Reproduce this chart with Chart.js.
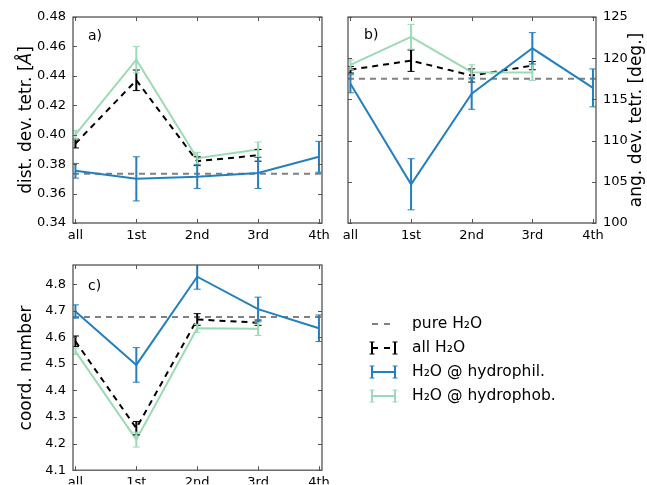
<!DOCTYPE html>
<html lang="en">
<head>
<meta charset="UTF-8">
<title>Tetrahedral order and coordination by hydration shell</title>
<script src="https://cdn.jsdelivr.net/npm/chart.js@4.4.1/dist/chart.umd.min.js"></script>
<style>
  body { margin: 0; background: #fff; }
  #wrap { position: relative; width: 647px; height: 485px; overflow: hidden; }
  #wrap canvas { position: absolute; }
</style>
</head>
<body>
<div id="wrap">
  <canvas id="dist-chart" width="345" height="250" style="left:0;top:0"></canvas>
  <canvas id="ang-chart" width="317" height="250" style="left:330px;top:0"></canvas>
  <canvas id="coord-chart" width="647" height="235" style="left:0;top:250px"></canvas>
</div>
<script>
const shells = ['all', '1st', '2nd', '3rd', '4th'];
const xMin = -0.04;
const xMax = 4.05;
const seriesLabels = ['pure H₂O', 'all H₂O', 'H₂O @ hydrophil.', 'H₂O @ hydrophob.'];

// a) distance deviation from tetrahedral order
const distPure = 0.3735;
const distAll = [0.394, 0.437, 0.382, 0.386];
const distAllErr = [0.003, 0.007, 0.003, 0.004];
const distPhil = [0.3755, 0.370, 0.3715, 0.374, 0.385];
const distPhilErr = [0.005, 0.015, 0.008, 0.0105, 0.0105];
const distPhob = [0.400, 0.451, 0.384, 0.390];
const distPhobErr = [0.003, 0.009, 0.004, 0.005];

// b) angular deviation
const angPure = 117.5;
const angAll = [118.6, 119.7, 117.9, 119.1];
const angAllErr = [0.4, 1.3, 0.8, 0.5];
const angPhil = [116.9, 104.7, 115.7, 121.2, 116.4];
const angPhilErr = [1.1, 3.1, 1.9, 1.9, 2.3];
const angPhob = [119.2, 122.6, 118.3, 118.25];
const angPhobErr = [0.6, 1.5, 0.9, 0.95];

// c) coordination number
const coordPure = 4.676;
const coordAll = [4.585, 4.258, 4.667, 4.655];
const coordAllErr = [0.02, 0.025, 0.022, 0.01];
const coordPhil = [4.697, 4.496, 4.828, 4.706, 4.634];
const coordPhilErr = [0.025, 0.065, 0.047, 0.045, 0.05];
const coordPhob = [4.547, 4.215, 4.634, 4.632];
const coordPhobErr = [0.012, 0.028, 0.015, 0.025];

const FONT = '"DejaVu Sans", sans-serif';
const GRAY = '#808080';
const BLUE = '#2380bd';
const GREEN = '#9cdab6';

Chart.defaults.font.family = FONT;
Chart.defaults.color = '#000';

function points(values) {
  return values.map((v, i) => ({ x: i, y: v }));
}

function buildDatasets(pure, all, allErr, phil, philErr, phob, phobErr) {
  return [
    { label: seriesLabels[0], data: [{ x: xMin, y: pure }, { x: xMax, y: pure }],
      borderColor: GRAY, borderWidth: 2, borderDash: [6, 5], order: 4 },
    { label: seriesLabels[1], data: points(all), errors: allErr,
      borderColor: '#000', borderWidth: 2, borderDash: [6, 5], order: 3 },
    { label: seriesLabels[2], data: points(phil), errors: philErr,
      borderColor: BLUE, borderWidth: 2, order: 1 },
    { label: seriesLabels[3], data: points(phob), errors: phobErr,
      borderColor: GREEN, borderWidth: 2, order: 2 }
  ];
}

function strokeLine(ctx, x1, y1, x2, y2) {
  ctx.beginPath();
  ctx.moveTo(x1, y1);
  ctx.lineTo(x2, y2);
  ctx.stroke();
}

// vertical error bars with caps, from each dataset's errors array
const errorBars = {
  id: 'errorBars',
  afterDatasetsDraw(chart) {
    const { ctx, chartArea: a, scales: { x, y } } = chart;
    ctx.save();
    ctx.beginPath();
    ctx.rect(a.left, a.top, a.right - a.left, a.bottom - a.top);
    ctx.clip();
    const sets = chart.data.datasets.slice().sort((p, q) => q.order - p.order);
    sets.forEach(ds => {
      if (!ds.errors) return;
      ctx.strokeStyle = ds.borderColor;
      ctx.setLineDash([]);
      ds.data.forEach((pt, i) => {
        const px = x.getPixelForValue(pt.x);
        const hi = y.getPixelForValue(pt.y + ds.errors[i]);
        const lo = y.getPixelForValue(pt.y - ds.errors[i]);
        ctx.lineWidth = 2;
        strokeLine(ctx, px, hi, px, lo);
        ctx.lineWidth = 1;
        strokeLine(ctx, px - 3.5, hi, px + 3.5, hi);
        strokeLine(ctx, px - 3.5, lo, px + 3.5, lo);
      });
    });
    ctx.restore();
  }
};

// box around the plot area with inward ticks on all four sides
const axesFrame = {
  id: 'axesFrame',
  afterDraw(chart) {
    const { ctx, chartArea: a, scales: { x, y } } = chart;
    ctx.save();
    ctx.strokeStyle = '#555';
    ctx.lineWidth = 1;
    ctx.beginPath();
    x.ticks.forEach(t => {
      const px = Math.round(x.getPixelForValue(t.value)) + 0.5;
      ctx.moveTo(px, a.top); ctx.lineTo(px, a.top + 4);
      ctx.moveTo(px, a.bottom); ctx.lineTo(px, a.bottom - 4);
    });
    y.ticks.forEach(t => {
      const py = Math.round(y.getPixelForValue(t.value)) + 0.5;
      ctx.moveTo(a.left, py); ctx.lineTo(a.left + 4, py);
      ctx.moveTo(a.right, py); ctx.lineTo(a.right - 4, py);
    });
    ctx.stroke();
    ctx.lineWidth = 1.3;
    ctx.strokeRect(a.left, a.top, a.right - a.left, a.bottom - a.top);
    ctx.restore();
  }
};

// panel letter and rotated axis label (label can mix upright and italic pieces)
const panelText = {
  id: 'panelText',
  afterDraw(chart, args, opts) {
    const ctx = chart.ctx;
    ctx.save();
    ctx.fillStyle = '#000';
    ctx.textBaseline = 'middle';
    ctx.font = `14px ${FONT}`;
    ctx.textAlign = 'left';
    ctx.fillText(opts.letter, opts.letterX, opts.letterY);

    const fonts = opts.title.map(p => `${p.italic ? 'italic ' : ''}17px ${FONT}`);
    const widths = opts.title.map((p, i) => { ctx.font = fonts[i]; return ctx.measureText(p.text).width; });
    const total = widths.reduce((s, w) => s + w, 0);
    ctx.translate(opts.titleX, opts.titleY);
    ctx.rotate(-Math.PI / 2);
    let cx = -total / 2;
    opts.title.forEach((p, i) => {
      ctx.font = fonts[i];
      ctx.fillText(p.text, cx, 0);
      cx += widths[i];
    });
    ctx.restore();
  }
};

// legend placed beside the lower panel
const legendBox = {
  id: 'legendBox',
  afterDraw(chart, args, opts) {
    const ctx = chart.ctx;
    ctx.save();
    chart.data.datasets.forEach((ds, i) => {
      const y = opts.top + i * opts.rowGap;
      ctx.strokeStyle = ds.borderColor;
      ctx.lineWidth = 2;
      ctx.setLineDash(ds.borderDash ? [6, 6] : []);
      strokeLine(ctx, opts.x0, y, opts.x1, y);
      ctx.setLineDash([]);
      if (ds.errors) {
        [opts.x0, opts.x1].forEach(px => {
          ctx.lineWidth = 2;
          strokeLine(ctx, px, y - 6, px, y + 6);
          ctx.lineWidth = 1;
          strokeLine(ctx, px - 2.5, y - 6, px + 2.5, y - 6);
          strokeLine(ctx, px - 2.5, y + 6, px + 2.5, y + 6);
        });
      }
      ctx.fillStyle = '#000';
      ctx.font = `15.5px ${FONT}`;
      ctx.textAlign = 'left';
      ctx.textBaseline = 'middle';
      ctx.fillText(ds.label, opts.textX, y);
    });
    ctx.restore();
  }
};

function panel(id, cfg) {
  return new Chart(document.getElementById(id), {
    type: 'line',
    data: { datasets: cfg.datasets },
    options: {
      responsive: false,
      animation: false,
      events: [],
      layout: { padding: cfg.padding },
      elements: { point: { radius: 0, hoverRadius: 0 }, line: { tension: 0, fill: false } },
      plugins: {
        legend: { display: false },
        tooltip: { enabled: false },
        panelText: cfg.text,
        legendBox: cfg.legend || false
      },
      scales: {
        x: {
          type: 'linear', min: xMin, max: xMax,
          grid: { display: false, drawTicks: false },
          border: { display: false },
          ticks: {
            stepSize: 1, includeBounds: false, autoSkip: false, maxRotation: 0,
            padding: 5, font: { size: 13 },
            callback: v => shells[v] ?? ''
          },
          afterFit: s => { s.height = cfg.xHeight; }
        },
        y: {
          position: cfg.yPosition,
          min: cfg.yMin, max: cfg.yMax,
          grid: { display: false, drawTicks: false },
          border: { display: false },
          ticks: {
            stepSize: cfg.yStep, includeBounds: false, autoSkip: false,
            padding: 7, font: { size: 13 },
            callback: v => v.toFixed(cfg.yDecimals)
          },
          afterFit: s => { s.width = cfg.yWidth; }
        }
      }
    },
    plugins: [errorBars, axesFrame, panelText, legendBox]
  });
}

panel('dist-chart', {
  datasets: buildDatasets(distPure, distAll, distAllErr, distPhil, distPhilErr, distPhob, distPhobErr),
  padding: { top: 17, right: 23, bottom: 0, left: 0 },
  xHeight: 27, yWidth: 73, yPosition: 'left',
  yMin: 0.34, yMax: 0.48, yStep: 0.02, yDecimals: 2,
  text: {
    letter: 'a)', letterX: 88, letterY: 36,
    title: [{ text: 'dist. dev. tetr. [' }, { text: 'Å', italic: true }, { text: ']' }],
    titleX: 27, titleY: 120
  }
});

panel('ang-chart', {
  datasets: buildDatasets(angPure, angAll, angAllErr, angPhil, angPhilErr, angPhob, angPhobErr),
  padding: { top: 17, right: 0, bottom: 0, left: 18 },
  xHeight: 27, yWidth: 51, yPosition: 'right',
  yMin: 100, yMax: 125, yStep: 5, yDecimals: 0,
  text: {
    letter: 'b)', letterX: 34, letterY: 35,
    title: [{ text: 'ang. dev. tetr. [deg.]' }],
    titleX: 307, titleY: 120
  }
});

panel('coord-chart', {
  datasets: buildDatasets(coordPure, coordAll, coordAllErr, coordPhil, coordPhilErr, coordPhob, coordPhobErr),
  padding: { top: 15, right: 325, bottom: 0, left: 0 },
  xHeight: 14, yWidth: 73, yPosition: 'left',
  yMin: 4.1, yMax: 4.872, yStep: 0.1, yDecimals: 1,
  text: {
    letter: 'c)', letterX: 88, letterY: 36,
    title: [{ text: 'coord. number' }],
    titleX: 27, titleY: 118
  },
  legend: { x0: 372, x1: 395, textX: 412, top: 74, rowGap: 24 }
});
</script>
</body>
</html>
